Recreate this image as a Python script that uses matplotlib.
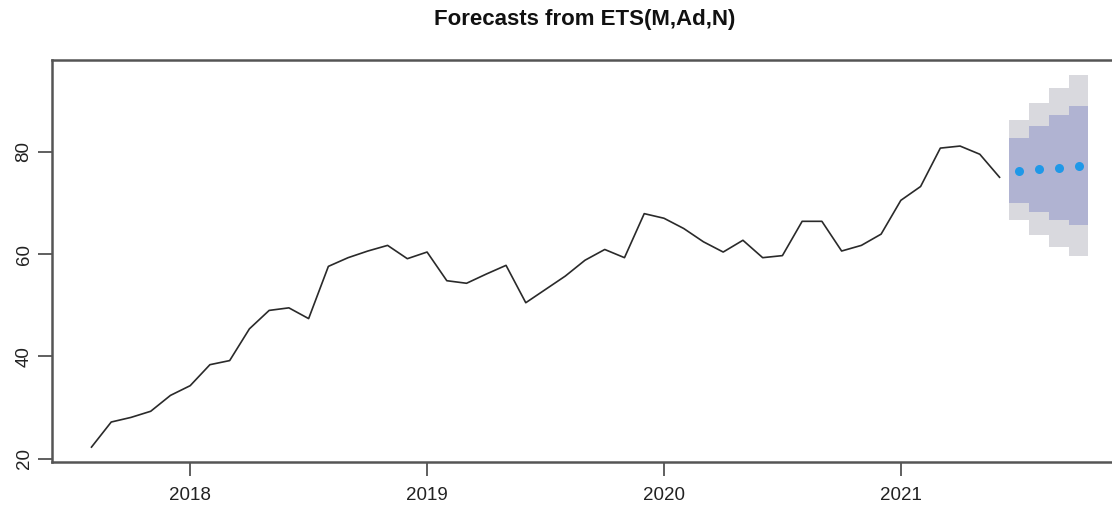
import numpy as np
import matplotlib
matplotlib.use("Agg")
import matplotlib.pyplot as plt

plt.rcParams['font.family'] = ['Liberation Sans', 'DejaVu Sans']

# ---- data ----
start_year = 2017
start_month = 8  # August 2017
values = [22.3, 27.2, 28.1, 29.3, 32.4,
          34.3, 38.4, 39.2, 45.4, 49.0, 49.5, 47.4, 57.6, 59.3, 60.6, 61.7, 59.1,
          60.4, 54.8, 54.3, 56.1, 57.8, 50.5, 53.1, 55.7, 58.8, 60.9, 59.3, 67.9,
          67.0, 65.0, 62.4, 60.4, 62.7, 59.3, 59.7, 66.4, 66.4, 60.6, 61.7, 63.9,
          70.5, 73.2, 80.7, 81.1, 79.5, 75.0]
fc_mean = [76.2, 76.6, 76.8, 77.2]
lo80 = [70.0, 68.3, 66.6, 65.7]
hi80 = [82.6, 85.1, 87.2, 88.9]
lo95 = [66.6, 63.7, 61.4, 59.6]
hi95 = [86.1, 89.6, 92.4, 95.0]
year_ticks = [2018, 2019, 2020, 2021]
title = "Forecasts from ETS(M,Ad,N)"

# ---- time index ----
t0 = start_year + (start_month - 1) / 12
t = t0 + np.arange(len(values)) / 12
tf = t[-1] + np.arange(1, len(fc_mean) + 1) / 12

W, H = 1112, 507
fig = plt.figure(figsize=(W / 100, H / 100), dpi=100)
left, right, top, bottom = 52, 1118, 60, 462
ax = fig.add_axes([left / W, 1 - bottom / H, (right - left) / W, (bottom - top) / H])

# step bands
edges = np.append(tf - 1 / 24, tf[-1] + 1 / 24)
def stepfill(lo, hi, color):
    ax.fill_between(edges, np.append(lo, lo[-1]), np.append(hi, hi[-1]),
                    step='post', color=color, linewidth=0)
stepfill(lo95, hi95, '#d9d9de')
stepfill(lo80, hi80, '#b0b3d2')

ax.plot(t, values, color='#2a2a2a', linewidth=1.2)
ax.plot(tf, fc_mean, linestyle='none', marker='o', markersize=6.5,
        color='#1f98e8', markeredgewidth=0)

allv = np.concatenate([values, lo95, hi95])
xr = [t[0], tf[-1]]
xpad = 0.04 * (xr[1] - xr[0])
ypad = 0.04 * (allv.max() - allv.min())
ax.set_xlim(xr[0] - xpad, xr[1] + xpad)
ax.set_ylim(allv.min() - ypad, allv.max() + ypad)

ax.set_xticks(year_ticks)
ax.set_xticklabels([str(y) for y in year_ticks])
ax.set_yticks([20, 40, 60, 80])
for lab in ax.get_yticklabels():
    lab.set_rotation(90)
    lab.set_va('center')
ax.tick_params(axis='both', direction='out', length=10, width=1.2,
               colors='#444444', labelcolor='#222222', labelsize=13.5)
ax.tick_params(axis='x', pad=8)
ax.tick_params(axis='y', pad=4)
for s in ax.spines.values():
    s.set_color('#555555')
    s.set_linewidth(1.8)

fig.text((left + right) / 2 / W, 1 - 19 / H, title, ha='center', va='center',
         fontsize=16, fontweight='bold', color='#111111')

fig.savefig('out.png', dpi=100)
